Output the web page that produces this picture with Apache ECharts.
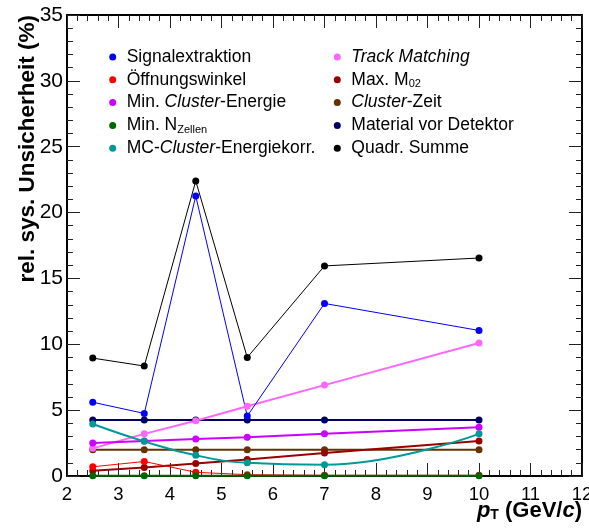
<!DOCTYPE html>
<html>
<head>
<meta charset="utf-8">
<script src="https://cdn.jsdelivr.net/npm/echarts@6/dist/echarts.min.js"></script>
<style>
  html, body { margin: 0; padding: 0; background: #fff; }
  #chart { width: 589px; height: 529px; }
</style>
</head>
<body>
<div id="chart"></div>
<script>
// pT bin centres (GeV/c)
const ptBins = [2.5, 3.5, 4.5, 5.5, 7, 10];

// relative systematic uncertainties (%) per source
const signalExtraction   = [5.6, 4.75, 21.25, 4.55, 13.1, 11.05];
const openingAngle       = [0.7, 1.1, 0.28, 0.1, 0.05, 0.05];
const minClusterEnergy   = [2.5, 2.65, 2.8, 2.95, 3.2, 3.7];
const minNCells          = [0.02, 0.02, 0.02, 0.02, 0.02, 0.02];
const mcClusterEnergyCorr = [3.95, 2.63, 1.57, 1.0, 0.85, 3.2];
const trackMatching      = [2.1, 3.2, 4.2, 5.3, 6.9, 10.1];
const maxM02             = [0.4, 0.65, 0.95, 1.25, 1.75, 2.65];
const clusterTime        = [2.0, 2.0, 2.0, 2.0, 2.0, 2.0];
const materialBudget     = [4.25, 4.25, 4.25, 4.25, 4.25, 4.25];
const quadraticSum       = [8.95, 8.35, 22.4, 9.0, 15.95, 16.55];

// legend columns
const legendLeft  = ['Signalextraktion', 'Öffnungswinkel', 'Min. Cluster-Energie', 'Min. NZellen', 'MC-Cluster-Energiekorr.'];
const legendRight = ['Track Matching', 'Max. M02', 'Cluster-Zeit', 'Material vor Detektor', 'Quadr. Summe'];

const legendRich = {
  'Min. Cluster-Energie': 'Min. {i|Cluster}-Energie',
  'Min. NZellen': 'Min. N{s|Zellen}',
  'MC-Cluster-Energiekorr.': 'MC-{i|Cluster}-Energiekorr.',
  'Track Matching': '{i|Track Matching}',
  'Max. M02': 'Max. M{s|02}',
  'Cluster-Zeit': '{i|Cluster}-Zeit'
};

const FONT = '"Liberation Sans", Arial, Helvetica, sans-serif';

function pairs(vals) {
  return ptBins.map((x, i) => [x, vals[i]]);
}

function line(name, vals, color, width, extra) {
  return Object.assign({
    name: name,
    type: 'line',
    data: pairs(vals),
    symbol: 'circle',
    symbolSize: 7,
    showSymbol: true,
    itemStyle: { color: color },
    lineStyle: { color: color, width: width },
    emphasis: { disabled: true },
    animation: false
  }, extra || {});
}

const series = [
  line('Material vor Detektor', materialBudget, '#000066', 2),
  line('Cluster-Zeit', clusterTime, '#663300', 2),
  line('Track Matching', trackMatching, '#ff66ff', 2),
  line('Max. M02', maxM02, '#990000', 2),
  line('Min. Cluster-Energie', minClusterEnergy, '#cc00ff', 2),
  line('MC-Cluster-Energiekorr.', mcClusterEnergyCorr, '#009999', 2, { smooth: 0.45 }),
  line('Öffnungswinkel', openingAngle, '#ff0000', 1),
  line('Min. NZellen', minNCells, '#006600', 2),
  line('Signalextraktion', signalExtraction, '#0000ff', 1),
  line('Quadr. Summe', quadraticSum, '#000000', 1)
];

const legendText = {
  fontFamily: FONT,
  fontSize: 17.5,
  color: '#000',
  lineHeight: 20,
  padding: [0, 0, 0, 5.5],
  rich: {
    i: { fontFamily: FONT, fontSize: 17.5, fontStyle: 'italic', color: '#000', lineHeight: 20 },
    s: { fontFamily: FONT, fontSize: 11, color: '#000', lineHeight: 4, verticalAlign: 'bottom' }
  }
};

function legend(names, left) {
  return {
    data: names,
    orient: 'vertical',
    left: left,
    top: 47,
    padding: 0,
    icon: 'circle',
    itemWidth: 7,
    itemHeight: 7,
    itemGap: 2.8,
    selectedMode: false,
    formatter: n => legendRich[n] || n,
    textStyle: legendText
  };
}

const tickStyle = { color: '#222', width: 1 };

function valueAxisX(pos, labels) {
  return {
    type: 'value',
    position: pos,
    min: 2, max: 12, interval: 1,
    axisLine: { show: true, onZero: false, lineStyle: { color: '#000', width: 2 } },
    axisTick: { show: true, inside: true, length: 13, lineStyle: tickStyle },
    minorTick: { show: true, splitNumber: 5, length: 6, lineStyle: tickStyle },
    axisLabel: { show: labels, margin: 9, fontFamily: FONT, fontSize: 18.5, color: '#000', showMinLabel: true, showMaxLabel: true },
    splitLine: { show: false }
  };
}

function valueAxisY(pos, labels) {
  return {
    type: 'value',
    position: pos,
    min: 0, max: 35, interval: 5,
    axisLine: { show: true, onZero: false, lineStyle: { color: '#000', width: 2 } },
    axisTick: { show: true, inside: true, length: 13, lineStyle: tickStyle },
    minorTick: { show: true, splitNumber: 5, length: 6, lineStyle: tickStyle },
    axisLabel: { show: labels, margin: 4, fontFamily: FONT, fontSize: 21, color: '#000', showMinLabel: true, showMaxLabel: true },
    splitLine: { show: false }
  };
}

const chart = echarts.init(document.getElementById('chart'), null, { renderer: 'canvas' });

chart.setOption({
  backgroundColor: '#fff',
  animation: false,
  grid: { left: 67, right: 7, top: 15, bottom: 53, containLabel: false, outerBoundsMode: 'none' },
  xAxis: [valueAxisX('bottom', true), valueAxisX('top', false)],
  yAxis: [valueAxisY('left', true), valueAxisY('right', false)],
  legend: [legend(legendLeft, 109.2), legend(legendRight, 333.8)],
  series: series,
  graphic: [
    {
      type: 'text',
      x: 28, y: 15,
      rotation: Math.PI / 2,
      style: {
        text: 'rel. sys. Unsicherheit (%)',
        font: 'bold 22.5px ' + FONT,
        fill: '#000',
        align: 'right',
        verticalAlign: 'middle'
      }
    },
    {
      type: 'text',
      x: 582, y: 511,
      style: {
        text: '{p|p}{t|T}{n| (GeV/}{p|c}{n|)}',
        align: 'right',
        verticalAlign: 'middle',
        rich: {
          p: { font: 'bold italic 22px ' + FONT, fill: '#000', lineHeight: 22 },
          n: { font: 'bold 22px ' + FONT, fill: '#000', lineHeight: 22 },
          t: { font: 'bold 14px ' + FONT, fill: '#000', lineHeight: 4, verticalAlign: 'bottom' }
        }
      }
    }
  ]
});
</script>
</body>
</html>
